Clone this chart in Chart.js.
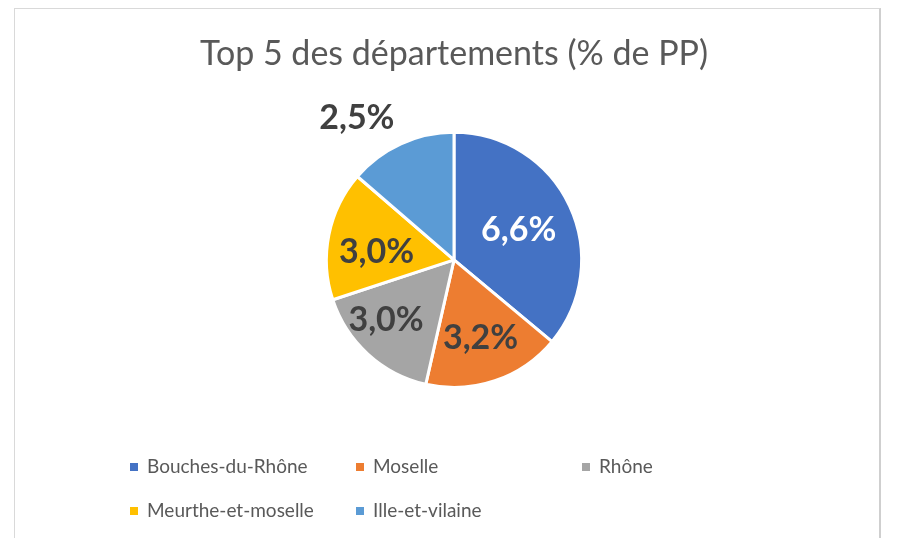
<!DOCTYPE html>
<html>
<head>
<meta charset="utf-8">
<script src="https://cdn.jsdelivr.net/npm/chart.js@4.4.1/dist/chart.umd.min.js"></script>
<style>
  html, body { margin: 0; padding: 0; background: #fff; }
  #wrap { position: relative; width: 920px; height: 538px; overflow: hidden; }
  #cadre { position: absolute; left: 14px; top: 8px; width: 867px; height: 560px; border: 1px solid #d9d9d9; border-right: 2px solid #cfcfcf; box-sizing: border-box; }
  canvas { position: absolute; left: 0; top: 0; }
  #legende { position: absolute; left: 0; top: 0; font-family: Lato, "Open Sans", sans-serif; font-size: 19px; color: #595959; }
  .item { position: absolute; white-space: nowrap; line-height: 20px; }
  .carre { display: inline-block; width: 8px; height: 8px; margin-right: 9px; vertical-align: 2px; }
</style>
</head>
<body>
<div id="wrap">
  <div id="cadre"></div>
  <canvas id="graficoDepartements" width="920" height="538"></canvas>
  <div id="legende"></div>
</div>
<script>
// Données du graphique (% de PP)
const departements = ['Bouches-du-Rhône', 'Moselle', 'Rhône', 'Meurthe-et-moselle', 'Ille-et-vilaine'];
const pourcentages = [6.6, 3.2, 3.0, 3.0, 2.5];
const couleurs = ['#4472C4', '#ED7D31', '#A5A5A5', '#FFC000', '#5B9BD5'];

// Étiquettes de valeur dessinées sur chaque part
const etiquettesPlugin = {
    id: 'etiquettes',
    afterDatasetsDraw(chart, args, opts) {
        const ctx = chart.ctx;
        const arcs = chart.getDatasetMeta(0).data;
        ctx.save();
        ctx.font = 'bold 34px Lato, "Open Sans", sans-serif';
        ctx.textAlign = 'center';
        ctx.textBaseline = 'middle';
        arcs.forEach((arc, i) => {
            const p = arc.getProps(['x', 'y', 'startAngle', 'endAngle', 'outerRadius'], true);
            const milieu = (p.startAngle + p.endAngle) / 2 + (opts.decalage[i] || 0);
            const r = p.outerRadius * opts.rayon[i];
            const x = p.x + Math.cos(milieu) * r;
            const y = p.y + Math.sin(milieu) * r;
            ctx.fillStyle = opts.couleurs[i];
            ctx.fillText(pourcentages[i].toFixed(1).replace('.', ',') + '%', x, y);
        });
        ctx.restore();
    }
};

const ctx = document.getElementById('graficoDepartements').getContext('2d');
const graphique = new Chart(ctx, {
    type: 'pie',
    data: {
        labels: departements,
        datasets: [{
            data: pourcentages,
            backgroundColor: couleurs,
            borderColor: '#ffffff',
            borderWidth: 3
        }]
    },
    options: {
        responsive: false,
        animation: false,
        layout: {
            padding: { top: 0, left: 0, right: 12, bottom: 149 }
        },
        plugins: {
            legend: { display: false },
            tooltip: { enabled: false },
            title: {
                display: true,
                text: 'Top 5 des départements (% de PP)',
                color: '#595959',
                font: { family: 'Lato, "Open Sans", sans-serif', size: 34, weight: 'normal' },
                padding: { top: 34, bottom: 56 }
            },
            etiquettes: {
                rayon: [0.56, 0.65, 0.71, 0.61, 1.35],
                decalage: [0, 0, 0.11, -0.1, -0.17],
                couleurs: ['#ffffff', '#404040', '#404040', '#404040', '#404040']
            }
        }
    },
    plugins: [etiquettesPlugin]
});

// Légende en grille, construite à partir des données du graphique
const legende = document.getElementById('legende');
const colonnes = [130, 356, 582];
const lignes = [466, 510];
departements.forEach((nom, i) => {
    const item = document.createElement('div');
    item.className = 'item';
    item.style.left = colonnes[i % 3] + 'px';
    item.style.top = (lignes[Math.floor(i / 3)] - 10) + 'px';
    item.innerHTML = `<span class="carre" style="background:${couleurs[i]}"></span>${nom}`;
    legende.appendChild(item);
});
</script>
</body>
</html>
